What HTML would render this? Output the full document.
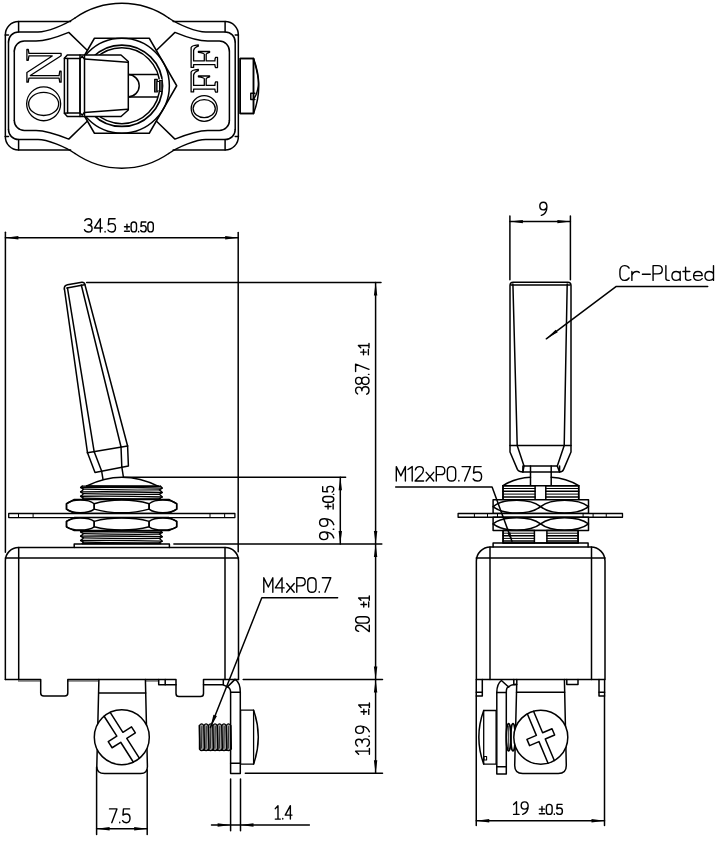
<!DOCTYPE html>
<html><head><meta charset="utf-8"><style>
html,body{margin:0;padding:0;background:#fff;}
svg{display:block;}
</style></head><body>
<svg width="719" height="842" viewBox="0 0 719 842">
<g fill="none" stroke="#000" stroke-width="1.5" stroke-linecap="round" stroke-linejoin="round" font-family="Liberation Sans">
<path d="M5.35,35 A13.2 13.2 0 0 1 18.55,21.5 L70.6,21.5"/>
<line x1="18.6" y1="21.5" x2="18.6" y2="32"/>
<line x1="5.35" y1="35" x2="8.5" y2="35"/>
<path d="M8.5,41.9 A9.9 9.9 0 0 1 18.4,32 L38,32 C47,32 65,24.9 75,18"/>
<path d="M14.3,51.1 A10 10 0 0 1 24.3,41.1 L36,41.1 C46,41.1 58,36.8 68.75,32.4 L87.2,50.2"/>
<path d="M5.35,136.5 A13.2 13.2 0 0 0 18.55,150 L70.6,150"/>
<line x1="18.6" y1="150" x2="18.6" y2="139.5"/>
<line x1="5.35" y1="136.5" x2="8.5" y2="136.5"/>
<path d="M8.5,129.6 A9.9 9.9 0 0 0 18.4,139.5 L38,139.5 C47,139.5 65,146.6 75,153.5"/>
<path d="M14.3,120.4 A10 10 0 0 0 24.3,130.4 L36,130.4 C46,130.4 58,134.7 68.75,139.1 L87.2,121.3"/>
<path d="M238.35,35 A13.2 13.2 0 0 0 225.15,21.5 L173.1,21.5"/>
<line x1="225.1" y1="21.5" x2="225.1" y2="32"/>
<line x1="238.35" y1="35" x2="235.2" y2="35"/>
<path d="M235.2,41.9 A9.9 9.9 0 0 0 225.3,32 L205.7,32 C196.7,32 178.7,24.9 168.7,18"/>
<path d="M229.4,51.1 A10 10 0 0 0 219.4,41.1 L207.7,41.1 C197.7,41.1 185.7,36.8 174.95,32.4 L156.5,50.2"/>
<path d="M238.35,136.5 A13.2 13.2 0 0 1 225.15,150 L173.1,150"/>
<line x1="225.1" y1="150" x2="225.1" y2="139.5"/>
<line x1="238.35" y1="136.5" x2="235.2" y2="136.5"/>
<path d="M235.2,129.6 A9.9 9.9 0 0 1 225.3,139.5 L205.7,139.5 C196.7,139.5 178.7,146.6 168.7,153.5"/>
<path d="M229.4,120.4 A10 10 0 0 1 219.4,130.4 L207.7,130.4 C197.7,130.4 185.7,134.7 174.95,139.1 L156.5,121.3"/>
<line x1="5.35" y1="35" x2="5.35" y2="136.5"/>
<line x1="238.35" y1="35" x2="238.35" y2="136.5"/>
<line x1="8.5" y1="41.9" x2="8.5" y2="129.6"/>
<line x1="235.2" y1="41.9" x2="235.2" y2="129.6"/>
<line x1="14.3" y1="51.1" x2="14.3" y2="120.4"/>
<line x1="229.4" y1="51.1" x2="229.4" y2="120.4"/>
<path d="M75,18 A82.15 82.15 0 0 1 168.7,18"/>
<path d="M75,153.5 A82.15 82.15 0 0 0 168.7,153.5"/>
<path d="M176.7,85.75 L149.27,133.25 L94.43,133.25 L67,85.75 L94.43,38.25 L149.27,38.25 Z"/>
<circle cx="121.85" cy="85.75" r="47.5"/>
<circle cx="121.85" cy="85.75" r="40.7" stroke-width="1.7"/>
<circle cx="121.85" cy="85.75" r="37.9"/>
<path d="M128,74.6 L157.5,74.6"/>
<path d="M128,96.9 L157.5,96.9"/>
<path d="M128,74.6 A11.2 11.15 0 0 1 128,96.9"/>
<rect x="154.6" y="79.4" width="7.6" height="12.6" fill="#fff" stroke="none"/>
<rect x="154.6" y="79.4" width="2.7" height="12.6" fill="#666" stroke-width="1.1"/>
<rect x="159.5" y="80.5" width="2.7" height="11" fill="#555" stroke-width="1.1"/>
<rect x="157.3" y="81.5" width="2.2" height="9.5" fill="#fff" stroke-width="1.0"/>
<path d="M67.3,55 L121,55 L128.3,61.5 L128.3,110 L121,116.5 L67.3,116.5 L64.4,113.2 L64.4,58.3 Z" fill="#fff"/>
<path d="M67.6,58.5 L80,58.5 L80,113 L67.6,113 Z"/>
<line x1="64.4" y1="58.3" x2="67.6" y2="58.5"/>
<line x1="64.4" y1="113.2" x2="67.6" y2="113"/>
<line x1="80" y1="55" x2="80" y2="116.5"/>
<line x1="84.5" y1="55" x2="84.5" y2="116.5"/>
<line x1="80" y1="58.5" x2="82.2" y2="56.6"/>
<line x1="82.2" y1="56.6" x2="84.5" y2="58.9"/>
<line x1="80" y1="113" x2="82.2" y2="115"/>
<line x1="82.2" y1="115" x2="84.5" y2="112.6"/>
<line x1="84.5" y1="58.9" x2="127.6" y2="62.3"/>
<line x1="84.5" y1="112.6" x2="127.6" y2="109.2"/>
<rect x="240.2" y="58.5" width="13.3" height="55" fill="#fff"/>
<path d="M253.5,58.5 L240.2,58.5 L240.2,113.5 L253.5,113.5 Z"/>
<path d="M253.5,58.5 Q264,86 253.5,113.5"/>
<path d="M253.5,59 Q259.5,78 258.3,86 Q257,95 253.5,99"/>
<path d="M254.9,93.2 L250.8,93.2 L250.8,99.5 L254.9,99.5"/>
<path d="M28.91 55.94 28.25 60.25H26.9V49.3H28.25L28.91 53.42H61.1V55.75L30.34 75.56H59.06L59.75 71.25H61.1V82.2H59.75L59.06 78.08H28.91L28.25 82.2H26.9V72.47L52.22 55.94Z" stroke-width="1.3"/>
<path d="M191.1,67.4 L191.1,47.6 Q191.3,45.6 198.3,44.9 L198.3,46.2 Q194.2,47.6 193.6,50.5 L193.6,60.9 L204.3,60.9 L204.3,54.2 Q204.0,53.0 198.4,52.3 L198.4,51.5 L209.6,51.5 L209.6,52.3 Q206.5,53.0 206.2,54.2 L206.2,60.9 L214.9,60.9 Q214.9,58.2 215.6,57.3 L217.5,57.3 L217.5,67.6 L215.6,67.6 Q214.9,66.8 214.9,64.6 L193.6,64.6 L193.6,67.4 Z" stroke-width="1.3"/>
<path d="M191.1,91.9 L191.1,72.1 Q191.3,70.1 198.3,69.4 L198.3,70.7 Q194.2,72.1 193.6,75.0 L193.6,85.4 L204.3,85.4 L204.3,78.7 Q204.0,77.5 198.4,76.8 L198.4,76.0 L209.6,76.0 L209.6,76.8 Q206.5,77.5 206.2,78.7 L206.2,85.4 L214.9,85.4 Q214.9,82.7 215.6,81.8 L217.5,81.8 L217.5,92.1 L215.6,92.1 Q214.9,91.3 214.9,89.1 L193.6,89.1 L193.6,91.9 Z" stroke-width="1.3"/>
<ellipse cx="43.65" cy="103.85" rx="17" ry="16.9" stroke-width="1.3"/>
<ellipse cx="43.65" cy="103.9" rx="15" ry="11.6" stroke-width="1.3"/>
<ellipse cx="204.2" cy="108.5" rx="13" ry="12.8" stroke-width="1.3"/>
<ellipse cx="204.2" cy="108.6" rx="11.1" ry="9" stroke-width="1.3"/>
<line x1="5.4" y1="232.2" x2="5.4" y2="552.2"/>
<line x1="238.2" y1="232.5" x2="238.2" y2="551.7"/>
<line x1="5.4" y1="237.8" x2="238.2" y2="237.8"/>
<path d="M5.4,237.8 L18.4,236.1 L18.4,239.5 Z" fill="#000" stroke="none"/>
<path d="M238.2,237.8 L225.2,239.5 L225.2,236.1 Z" fill="#000" stroke="none"/>
<path d="M64.4,288.8 L87.5,452.8"/>
<path d="M67.5,288.1 L94.2,451.8"/>
<path d="M85,285 L127.6,446"/>
<path d="M81.3,285 L121,446.8"/>
<path d="M64.4,289 Q63.8,285.5 67.5,284.7 L81.9,282.2 Q84.5,282.1 85,284.6"/>
<line x1="66.9" y1="288.1" x2="84.4" y2="284.7"/>
<path d="M87.5,452.8 L127.6,446"/>
<path d="M87.5,452.8 L95,472.6 L128.4,466 L127.6,446"/>
<path d="M94.2,451.8 L101.7,471.2"/>
<path d="M121,446.8 L121.8,466.8"/>
<path d="M101.7,471.5 L103,479.3"/>
<path d="M121.8,466.8 L123.4,477"/>
<path d="M86.7,486 Q122,468.3 158.5,486.3"/>
<line x1="86.5" y1="486.1" x2="158.5" y2="486.3"/>
<line x1="86.6" y1="282.4" x2="381" y2="282.4"/>
<line x1="123.4" y1="477.3" x2="345.6" y2="477.3"/>
<line x1="173.9" y1="543.9" x2="381.8" y2="543.9"/>
<line x1="243.2" y1="679.4" x2="382.5" y2="679.4"/>
<line x1="245.3" y1="773.3" x2="382.5" y2="773.3"/>
<path d="M82.28,486.1 L80.6,487.43 L83.4,489.2 L82.28,490.53 L80.6,491.86 L83.4,493.64 L82.28,494.97 L80.6,496.3 L83.4,498.07 L82.28,499.4" stroke-width="1.4"/>
<path d="M160.52,486.32 L162.2,488.1 L159.4,489.87 L160.52,490.76 L162.2,492.53 L159.4,494.3 L160.52,495.19 L162.2,496.96 L159.4,498.73 L160.52,499.4" stroke-width="1.4"/>
<line x1="82.28" y1="486.1" x2="160.52" y2="486.32" stroke-width="1.4"/>
<path d="M80.6,487.43 Q121.4,486.99 162.2,488.1" stroke-width="1.4"/>
<path d="M83.4,489.2 Q121.4,490.31 159.4,489.87" stroke-width="1.2"/>
<path d="M80.6,491.86 Q121.4,491.42 162.2,492.53" stroke-width="1.4"/>
<path d="M83.4,493.64 Q121.4,494.75 159.4,494.3" stroke-width="1.2"/>
<path d="M80.6,496.3 Q121.4,495.85 162.2,496.96" stroke-width="1.4"/>
<path d="M83.4,498.07 Q121.4,499.18 159.4,498.73" stroke-width="1.2"/>
<line x1="82.28" y1="499.4" x2="160.52" y2="499.4" stroke-width="1.4"/>
<path d="M82.28,530.5 L80.6,531.8 L83.4,533.53 L82.28,534.83 L80.6,536.13 L83.4,537.87 L82.28,539.17 L80.6,540.47 L83.4,542.2 L82.28,543.5" stroke-width="1.4"/>
<path d="M160.52,530.72 L162.2,532.45 L159.4,534.18 L160.52,535.05 L162.2,536.78 L159.4,538.52 L160.52,539.38 L162.2,541.12 L159.4,542.85 L160.52,543.5" stroke-width="1.4"/>
<line x1="82.28" y1="530.5" x2="160.52" y2="530.72" stroke-width="1.4"/>
<path d="M80.6,531.8 Q121.4,531.37 162.2,532.45" stroke-width="1.4"/>
<path d="M83.4,533.53 Q121.4,534.62 159.4,534.18" stroke-width="1.2"/>
<path d="M80.6,536.13 Q121.4,535.7 162.2,536.78" stroke-width="1.4"/>
<path d="M83.4,537.87 Q121.4,538.95 159.4,538.52" stroke-width="1.2"/>
<path d="M80.6,540.47 Q121.4,540.03 162.2,541.12" stroke-width="1.4"/>
<path d="M83.4,542.2 Q121.4,543.28 159.4,542.85" stroke-width="1.2"/>
<line x1="82.28" y1="543.5" x2="160.52" y2="543.5" stroke-width="1.4"/>
<path d="M74.3,499.5 L168.9,499.5 L176.7,503.75 L176.7,509.15 L168.9,513.4 L74.3,513.4 L66.5,509.15 L66.5,503.75 Z" fill="#fff"/>
<path d="M66.5,503.75 C72.59,498.9 88.11,498.9 94.2,503.75 L94.2,509.15 C88.11,514 72.59,514 66.5,509.15 Z"/>
<path d="M94.2,503.75 C110.67,498.9 132.63,498.9 149.1,503.75 L149.1,509.15 C132.63,514 110.67,514 94.2,509.15 Z"/>
<path d="M149.1,503.75 C155.17,498.9 170.63,498.9 176.7,503.75 L176.7,509.15 C170.63,514 155.17,514 149.1,509.15 Z"/>
<rect x="8.7" y="513.5" width="226.2" height="4.1" fill="#fff" stroke-width="1.3"/>
<line x1="18.5" y1="513.5" x2="18.5" y2="517.6" stroke-width="1"/>
<line x1="33.1" y1="513.5" x2="33.1" y2="517.6" stroke-width="1"/>
<line x1="210" y1="513.5" x2="210" y2="517.6" stroke-width="1"/>
<line x1="224.65" y1="513.5" x2="224.65" y2="517.6" stroke-width="1"/>
<path d="M74.3,517.6 L168.9,517.6 L176.7,521.4 L176.7,526.8 L168.9,530.6 L74.3,530.6 L66.5,526.8 L66.5,521.4 Z" fill="#fff"/>
<path d="M66.5,521.4 C72.59,517 88.11,517 94.2,521.4 L94.2,526.8 C88.11,531.2 72.59,531.2 66.5,526.8 Z"/>
<path d="M94.2,521.4 C110.67,517 132.63,517 149.1,521.4 L149.1,526.8 C132.63,531.2 110.67,531.2 94.2,526.8 Z"/>
<path d="M149.1,521.4 C155.17,517 170.63,517 176.7,521.4 L176.7,526.8 C170.63,531.2 155.17,531.2 149.1,526.8 Z"/>
<path d="M74.2,547.5 L74.2,543.9 L169.4,543.9 L169.4,547.5"/>
<path d="M5.35,679.4 L5.35,560.7 A13.2 13.2 0 0 1 18.55,547.5 L225.3,547.5 A13.2 13.2 0 0 1 238.5,560.7 L238.5,679.4"/>
<line x1="18.7" y1="547.5" x2="18.7" y2="679.4"/>
<line x1="225" y1="547.5" x2="225" y2="679.4"/>
<line x1="5.35" y1="558" x2="238.5" y2="558"/>
<path d="M5.35,679.4 L40.7,679.4 L40.7,693 Q40.7,696 43.7,696 L64.8,696 Q67.8,696 67.8,693 L67.8,679.4 L176,679.4 L176,693.5 Q176,696.6 179,696.6 L200.5,696.6 Q203.5,696.6 203.5,693.5 L203.5,679.4 L238.5,679.4"/>
<path d="M158.7,679.4 L158.7,684.8 L176,684.8"/>
<line x1="165.2" y1="679.4" x2="165.2" y2="684.8"/>
<path d="M203.5,684.8 L223.3,684.8 L223.3,679.4"/>
<line x1="223.3" y1="684.8" x2="227.4" y2="686.9"/>
<line x1="18.4" y1="681" x2="40.7" y2="681" stroke-width="0.8"/>
<line x1="67.8" y1="681" x2="98" y2="681" stroke-width="0.8"/>
<line x1="145.4" y1="681" x2="158.7" y2="681" stroke-width="0.8"/>
<path d="M98.9,679.4 L96.8,766.3 Q96.6,773.5 104.6,773.5 L140.6,773.5 Q147.6,773.5 147.4,766.3 L145.4,679.4"/>
<line x1="98.7" y1="692.9" x2="145.7" y2="692.9"/>
<circle cx="121.8" cy="737.2" r="27.5" fill="#fff"/>
<path d="M110.19,712.37 L122.9,732.33 L131.5,726.85 L135.37,732.92 L126.77,738.4 L139.48,758.36"/>
<path d="M104.12,716.24 L116.83,736.2 L108.23,741.68 L112.1,747.75 L120.7,742.27 L133.41,762.23"/>
<line x1="96.6" y1="767" x2="96.6" y2="834.5"/>
<line x1="147.2" y1="770" x2="147.2" y2="834.5"/>
<line x1="96.6" y1="828.8" x2="147.2" y2="828.8"/>
<path d="M96.6,828.8 L109.6,827.1 L109.6,830.5 Z" fill="#000" stroke="none"/>
<path d="M147.2,828.8 L134.2,830.5 L134.2,827.1 Z" fill="#000" stroke="none"/>
<path d="M235,679.4 Q240.3,682.5 240.3,692.3 L240.3,773.5 L230.6,773.5 L230.6,692.3 Q230.6,688 227.4,686.9 L235,679.4"/>
<line x1="230.6" y1="692.3" x2="240.3" y2="692.3"/>
<line x1="230.6" y1="763.3" x2="240.3" y2="763.3"/>
<rect x="240.6" y="710.2" width="13" height="53.9" fill="#fff" stroke-width="1.3"/>
<path d="M253.6,710.2 Q263,737 253.6,764.1"/>
<line x1="240.6" y1="710.2" x2="382" y2="710.2" stroke-width="0.01"/>
<g stroke-width="1.2">
<path d="M199.4,725.5 Q201.64,722.3 203.87,725.5 Q206.11,722.3 208.34,725.5 Q210.58,722.3 212.81,725.5 Q215.05,722.3 217.29,725.5 Q219.52,722.3 221.76,725.5 Q223.99,722.3 226.23,725.5 Q228.46,722.3 230.7,725.5 L230.7,749.1 Q228.46,752.3 226.23,749.1 Q223.99,752.3 221.76,749.1 Q219.52,752.3 217.29,749.1 Q215.05,752.3 212.81,749.1 Q210.58,752.3 208.34,749.1 Q206.11,752.3 203.87,749.1 Q201.64,752.3 199.4,749.1 Z" fill="#9a9a9a"/>
<line x1="199.4" y1="725.5" x2="200" y2="749.1" stroke-width="1.5"/>
<line x1="203.87" y1="725.5" x2="204.47" y2="749.1" stroke-width="1.5"/>
<line x1="208.34" y1="725.5" x2="208.94" y2="749.1" stroke-width="1.5"/>
<line x1="212.81" y1="725.5" x2="213.41" y2="749.1" stroke-width="1.5"/>
<line x1="217.29" y1="725.5" x2="217.89" y2="749.1" stroke-width="1.5"/>
<line x1="221.76" y1="725.5" x2="222.36" y2="749.1" stroke-width="1.5"/>
<line x1="226.23" y1="725.5" x2="226.83" y2="749.1" stroke-width="1.5"/>
<line x1="230.7" y1="725.5" x2="231.3" y2="749.1" stroke-width="1.5"/>
<line x1="201.86" y1="726.5" x2="201.46" y2="748.1" stroke-width="0.7"/>
<line x1="206.33" y1="726.5" x2="205.93" y2="748.1" stroke-width="0.7"/>
<line x1="210.8" y1="726.5" x2="210.4" y2="748.1" stroke-width="0.7"/>
<line x1="215.27" y1="726.5" x2="214.87" y2="748.1" stroke-width="0.7"/>
<line x1="219.75" y1="726.5" x2="219.34" y2="748.1" stroke-width="0.7"/>
<line x1="224.22" y1="726.5" x2="223.82" y2="748.1" stroke-width="0.7"/>
<line x1="228.69" y1="726.5" x2="228.29" y2="748.1" stroke-width="0.7"/>
</g>
<path d="M337.6,597.8 L261.8,597.8 L210.4,727.5"/>
<path d="M210.4,727.5 L213.42,714.71 L216.96,716.11 Z" fill="#000" stroke="none"/>
<line x1="230.6" y1="779" x2="230.6" y2="830.7"/>
<line x1="240.5" y1="779" x2="240.5" y2="830.7"/>
<line x1="211.5" y1="825" x2="309.4" y2="825"/>
<path d="M230.6,825 L217.6,826.7 L217.6,823.3 Z" fill="#000" stroke="none"/>
<path d="M240.5,825 L253.5,823.3 L253.5,826.7 Z" fill="#000" stroke="none"/>
<line x1="375.6" y1="282.4" x2="375.6" y2="773.3"/>
<path d="M375.6,282.4 L377.3,295.4 L373.9,295.4 Z" fill="#000" stroke="none"/>
<path d="M375.6,543.9 L373.9,530.9 L377.3,530.9 Z" fill="#000" stroke="none"/>
<path d="M375.6,543.9 L377.3,556.9 L373.9,556.9 Z" fill="#000" stroke="none"/>
<path d="M375.6,679.4 L373.9,666.4 L377.3,666.4 Z" fill="#000" stroke="none"/>
<path d="M375.6,679.4 L377.3,692.4 L373.9,692.4 Z" fill="#000" stroke="none"/>
<path d="M375.6,773.3 L373.9,760.3 L377.3,760.3 Z" fill="#000" stroke="none"/>
<line x1="340.3" y1="477.3" x2="340.3" y2="543.9"/>
<path d="M340.3,477.3 L342,490.3 L338.6,490.3 Z" fill="#000" stroke="none"/>
<path d="M340.3,543.9 L338.6,530.9 L342,530.9 Z" fill="#000" stroke="none"/>
<line x1="509.9" y1="216" x2="509.9" y2="279.8"/>
<line x1="570.4" y1="216" x2="570.4" y2="279.8"/>
<line x1="509.9" y1="221.6" x2="570.4" y2="221.6"/>
<path d="M509.9,221.6 L522.9,219.9 L522.9,223.3 Z" fill="#000" stroke="none"/>
<path d="M570.4,221.6 L557.4,223.3 L557.4,219.9 Z" fill="#000" stroke="none"/>
<path d="M510,452 L510,285.4 Q510,282.2 513.2,282.2 L567.8,282.2 Q571,282.2 571,285.4 L571,452 L563.5,469.6 Q562.5,471.9 559.6,471.9 L522.9,471.9 Q519,471.9 517.5,469.6 Z" fill="#fff"/>
<line x1="511" y1="285" x2="570" y2="285"/>
<path d="M512.9,284 L517.2,445.4"/>
<path d="M567.2,284 L564.2,445.4"/>
<line x1="510" y1="445.4" x2="571" y2="445.4"/>
<path d="M517.2,445.4 L524,466.1 L557.3,466.1 L564.2,445.4"/>
<path d="M524,466.1 L522.9,471.9"/>
<path d="M557.3,466.1 L559.6,471.9"/>
<path d="M707.7,286.4 L616.3,286.4 L546.3,338.8"/>
<path d="M546.3,338.8 L555.69,329.65 L557.73,332.37 Z" fill="#000" stroke="none"/>
<path d="M530.5,471.9 L530.5,485.7"/>
<path d="M551.2,471.9 L551.2,485.7"/>
<path d="M522.9,466.1 L522.9,471.9"/>
<path d="M530.5,466.1 L530.5,471.9"/>
<path d="M551.2,466.1 L551.2,471.9"/>
<path d="M559.6,466.1 L559.6,471.9"/>
<path d="M503,485.7 Q515,478 530.5,477.3"/>
<path d="M551.2,477.3 Q566,478 578.7,485.7"/>
<rect x="503" y="485.7" width="75.7" height="14.5" fill="#fff"/>
<line x1="503" y1="485.7" x2="535.1" y2="485.7" stroke-width="1.5"/>
<line x1="545.8" y1="485.7" x2="578.7" y2="485.7" stroke-width="1.5"/>
<line x1="503" y1="488.5" x2="535.1" y2="488.5" stroke-width="1.0"/>
<line x1="545.8" y1="488.5" x2="578.7" y2="488.5" stroke-width="1.0"/>
<line x1="503" y1="491.3" x2="535.1" y2="491.3" stroke-width="1.5"/>
<line x1="545.8" y1="491.3" x2="578.7" y2="491.3" stroke-width="1.5"/>
<line x1="503" y1="494.1" x2="535.1" y2="494.1" stroke-width="1.0"/>
<line x1="545.8" y1="494.1" x2="578.7" y2="494.1" stroke-width="1.0"/>
<line x1="503" y1="496.9" x2="535.1" y2="496.9" stroke-width="1.5"/>
<line x1="545.8" y1="496.9" x2="578.7" y2="496.9" stroke-width="1.5"/>
<line x1="503" y1="500.2" x2="535.1" y2="500.2" stroke-width="1.0"/>
<line x1="545.8" y1="500.2" x2="578.7" y2="500.2" stroke-width="1.0"/>
<line x1="503" y1="485.7" x2="503" y2="500.2"/>
<line x1="578.7" y1="485.7" x2="578.7" y2="500.2"/>
<line x1="535.1" y1="485.7" x2="535.1" y2="500.2"/>
<line x1="545.8" y1="485.7" x2="545.8" y2="500.2"/>
<path d="M493.1,499.75 L588.5,499.75 L588.5,513.5 L493.1,513.5 Z" fill="#fff"/>
<path d="M493.1,506.62 C503.55,498.15 530.15,498.15 540.6,506.62 C530.15,515.1 503.55,515.1 493.1,506.62"/>
<path d="M540.6,506.62 C551.14,498.15 577.96,498.15 588.5,506.62 C577.96,515.1 551.14,515.1 540.6,506.62"/>
<rect x="458.1" y="513.5" width="164.4" height="3.75" fill="#fff" stroke-width="1.3"/>
<line x1="474.4" y1="513.5" x2="474.4" y2="517.25" stroke-width="1"/>
<line x1="487.5" y1="513.5" x2="487.5" y2="517.25" stroke-width="1"/>
<line x1="497.5" y1="513.5" x2="497.5" y2="517.25" stroke-width="1"/>
<line x1="583.1" y1="513.5" x2="583.1" y2="517.25" stroke-width="1"/>
<line x1="593.1" y1="513.5" x2="593.1" y2="517.25" stroke-width="1"/>
<line x1="606.25" y1="513.5" x2="606.25" y2="517.25" stroke-width="1"/>
<path d="M493.1,517.25 L588.5,517.25 L588.5,530.6 L493.1,530.6 Z" fill="#fff"/>
<path d="M493.1,523.92 C503.55,515.65 530.15,515.65 540.6,523.92 C530.15,532.2 503.55,532.2 493.1,523.92"/>
<path d="M540.6,523.92 C551.14,515.65 577.96,515.65 588.5,523.92 C577.96,532.2 551.14,532.2 540.6,523.92"/>
<rect x="503.1" y="530.6" width="75" height="12.5" fill="#fff"/>
<line x1="503.1" y1="530.6" x2="534.4" y2="530.6" stroke-width="1.5"/>
<line x1="546.9" y1="530.6" x2="578.1" y2="530.6" stroke-width="1.5"/>
<line x1="503.1" y1="533.2" x2="534.4" y2="533.2" stroke-width="1.0"/>
<line x1="546.9" y1="533.2" x2="578.1" y2="533.2" stroke-width="1.0"/>
<line x1="503.1" y1="535.8" x2="534.4" y2="535.8" stroke-width="1.5"/>
<line x1="546.9" y1="535.8" x2="578.1" y2="535.8" stroke-width="1.5"/>
<line x1="503.1" y1="538.4" x2="534.4" y2="538.4" stroke-width="1.0"/>
<line x1="546.9" y1="538.4" x2="578.1" y2="538.4" stroke-width="1.0"/>
<line x1="503.1" y1="541" x2="534.4" y2="541" stroke-width="1.5"/>
<line x1="546.9" y1="541" x2="578.1" y2="541" stroke-width="1.5"/>
<line x1="503.1" y1="543.1" x2="534.4" y2="543.1" stroke-width="1.0"/>
<line x1="546.9" y1="543.1" x2="578.1" y2="543.1" stroke-width="1.0"/>
<line x1="503.1" y1="530.6" x2="503.1" y2="543.1"/>
<line x1="578.1" y1="530.6" x2="578.1" y2="543.1"/>
<line x1="534.4" y1="530.6" x2="534.4" y2="543.1"/>
<line x1="546.9" y1="530.6" x2="546.9" y2="543.1"/>
<path d="M493.1,546.9 L493.1,543.1 L588.1,543.1 L588.1,546.9"/>
<path d="M395.7,487 L492.1,487 L512,541.2"/>
<path d="M512,541.2 L507.4,533.3 L510.4,532.2 Z" fill="#000" stroke="none"/>
<path d="M476.35,679.4 L476.35,561 A14 14 0 0 1 490.35,547 L591,547 A14 14 0 0 1 605,561 L605,679.4 Z"/>
<line x1="490" y1="547" x2="490" y2="679.4"/>
<line x1="591.5" y1="547" x2="591.5" y2="679.4"/>
<line x1="476.25" y1="558" x2="605" y2="558"/>
<path d="M476.25,679.4 L476.25,696 L482.3,696 L482.3,679.4"/>
<line x1="476.25" y1="692.3" x2="482.3" y2="692.3"/>
<path d="M599,679.4 L599,696 L604.6,696 L604.6,679.4"/>
<line x1="599" y1="692.3" x2="604.6" y2="692.3"/>
<line x1="476.25" y1="696" x2="476.25" y2="825.5"/>
<line x1="604.5" y1="696" x2="604.5" y2="825.5"/>
<line x1="476.25" y1="820.75" x2="604.5" y2="820.75"/>
<path d="M476.25,820.75 L489.25,819.05 L489.25,822.45 Z" fill="#000" stroke="none"/>
<path d="M604.5,820.75 L591.5,822.45 L591.5,819.05 Z" fill="#000" stroke="none"/>
<path d="M496.8,692.5 Q496.8,684 501.4,680.5 L508.6,687 Q510.5,684.4 515.75,684.4"/>
<path d="M496.8,692.5 L496.8,773.9 L506.3,773.9 L506.3,692.5"/>
<line x1="496.8" y1="692.5" x2="506.3" y2="692.5"/>
<line x1="496.8" y1="766.7" x2="506.3" y2="766.7"/>
<path d="M506.3,692.5 Q506.3,687 508.6,687"/>
<path d="M513.8,679.4 L513.8,684.4 L516.8,684.4 L516.8,679.4"/>
<rect x="483.7" y="710.5" width="12.4" height="53.6" fill="#fff" stroke-width="1.3"/>
<path d="M483.7,710.5 Q474,737 483.7,764.1"/>
<ellipse cx="508.6" cy="737.3" rx="2.3" ry="13.6" stroke-width="1.7"/>
<ellipse cx="513" cy="737.3" rx="2.3" ry="13.6" stroke-width="1.7"/>
<line x1="508.6" y1="726" x2="508.6" y2="749" stroke-width="0.8"/>
<path d="M484,756.5 L486.6,756.5 L486.6,760 L484,760 Z" stroke-width="1.1"/>
<path d="M516.7,684.4 L514.7,765.5 Q514.7,773.5 522.7,773.5 L558.3,773.5 Q566.3,773.5 566.3,765.5 L564.4,679.4"/>
<line x1="516.5" y1="692.3" x2="564.6" y2="692.3"/>
<path d="M566.8,679.4 L566.8,684.5 L578,684.5 L578,679.4"/>
<circle cx="540.8" cy="737.2" r="27" fill="#fff"/>
<path d="M533.55,711.19 L542.62,732.75 L552.02,728.8 L554.65,735.06 L545.25,739.02 L554.31,760.57"/>
<path d="M527.29,713.83 L536.35,735.38 L526.95,739.34 L529.58,745.6 L538.98,741.65 L548.05,763.21"/>
<path d="M 84.77,220.69 C 85.58,219.23 86.8,218.7 88.29,218.7 C 90.46,218.7 91.67,220.03 91.67,221.89 C 91.67,223.75 90.32,224.95 88.02,224.95 C 90.59,224.95 92.08,226.41 92.08,228.41 C 92.08,230.67 90.46,232 88.29,232 C 86.53,232 85.18,231.34 84.5,229.74 M 100.34,232 L 100.34,218.7 L 94.38,228.01 L 102.23,228.01 M 105.08,231.47 L 105.08,232 M 115.09,218.7 L 108.87,218.7 L 108.33,224.69 C 109.27,224.02 110.63,223.62 111.98,223.62 C 114.28,223.62 115.5,225.35 115.5,227.74 C 115.5,230.4 114.01,232 111.71,232 C 109.81,232 108.6,231.34 107.92,230" stroke-width="1.4"/>
<path d="M 126.97,224.18 L 126.97,229.33 M 124.5,226.75 L 129.43,226.75 M 124.5,231.31 L 129.43,231.31 M 131.11,224.97 C 131.11,222.79 132.09,222 133.82,222 C 135.55,222 136.53,222.79 136.53,224.97 L 136.53,228.93 C 136.53,231.11 135.55,231.9 133.82,231.9 C 132.09,231.9 131.11,231.11 131.11,228.93 Z M 138.6,231.5 L 138.6,231.9 M 145.9,222 L 141.37,222 L 140.97,226.46 C 141.66,225.96 142.65,225.66 143.63,225.66 C 145.31,225.66 146.2,226.95 146.2,228.73 C 146.2,230.71 145.11,231.9 143.44,231.9 C 142.06,231.9 141.17,231.41 140.68,230.41 M 147.88,224.97 C 147.88,222.79 148.86,222 150.59,222 C 152.31,222 153.3,222.79 153.3,224.97 L 153.3,228.93 C 153.3,231.11 152.31,231.9 150.59,231.9 C 148.86,231.9 147.88,231.11 147.88,228.93 Z" stroke-width="1.4"/>
<path d="M 109.5,808.9 L 116.95,808.9 L 111.76,822.7 M 119.75,822.15 L 119.75,822.7 M 129.6,808.9 L 123.48,808.9 L 122.94,815.11 C 123.88,814.42 125.21,814.01 126.54,814.01 C 128.8,814.01 130,815.8 130,818.28 C 130,821.04 128.54,822.7 126.27,822.7 C 124.41,822.7 123.21,822.01 122.55,820.63" stroke-width="1.4"/>
<path d="M 275.3,808.65 L 277.99,805.7 L 277.99,819.1 M 275.3,819.1 L 280.32,819.1 M 282.77,818.56 L 282.77,819.1 M 290.37,819.1 L 290.37,805.7 L 285.23,815.08 L 292,815.08" stroke-width="1.4"/>
<path d="M 263.8,592.2 L 263.8,577.8 L 268.32,587.02 L 272.83,577.8 L 272.83,592.2 M 282.02,592.2 L 282.02,577.8 L 275.39,587.88 L 284.13,587.88 M 286.69,583.56 L 294.21,592.2 M 294.21,583.56 L 286.69,592.2 M 296.77,592.2 L 296.77,577.8 L 301.29,577.8 C 304,577.8 305.2,579.53 305.2,581.83 C 305.2,584.14 304,585.86 301.29,585.86 L 296.77,585.86 M 307.76,582.12 C 307.76,578.95 309.27,577.8 311.9,577.8 C 314.54,577.8 316.04,578.95 316.04,582.12 L 316.04,587.88 C 316.04,591.05 314.54,592.2 311.9,592.2 C 309.27,592.2 307.76,591.05 307.76,587.88 Z M 319.21,591.62 L 319.21,592.2 M 322.37,577.8 L 330.8,577.8 L 324.93,592.2" stroke-width="1.4"/>
<path d="M 396.3,481 L 396.3,466.6 L 400.85,475.82 L 405.39,466.6 L 405.39,481 M 407.97,469.48 L 412.21,466.6 L 412.21,481 M 415.39,469.77 C 415.84,467.61 417.36,466.6 419.33,466.6 C 421.91,466.6 423.42,468.04 423.42,470.34 C 423.42,472.36 422.36,473.8 420.39,475.53 L 415.09,481 L 423.57,481 M 426.15,472.36 L 433.72,481 M 433.72,472.36 L 426.15,481 M 436.3,481 L 436.3,466.6 L 440.84,466.6 C 443.57,466.6 444.78,468.33 444.78,470.63 C 444.78,472.94 443.57,474.66 440.84,474.66 L 436.3,474.66 M 447.36,470.92 C 447.36,467.75 448.87,466.6 451.53,466.6 C 454.18,466.6 455.69,467.75 455.69,470.92 L 455.69,476.68 C 455.69,479.85 454.18,481 451.53,481 C 448.87,481 447.36,479.85 447.36,476.68 Z M 458.87,480.42 L 458.87,481 M 462.06,466.6 L 470.54,466.6 L 464.63,481 M 481.15,466.6 L 474.18,466.6 L 473.57,473.08 C 474.63,472.36 476.15,471.93 477.66,471.93 C 480.24,471.93 481.6,473.8 481.6,476.39 C 481.6,479.27 479.93,481 477.36,481 C 475.24,481 473.87,480.28 473.12,478.84" stroke-width="1.4"/>
<path d="M 546.9,207.22 C 546.25,209.2 544.96,209.86 543.29,209.86 C 541.09,209.86 539.8,208.14 539.8,206.03 C 539.8,203.52 541.09,202.2 543.35,202.2 C 545.61,202.2 546.9,203.78 546.9,206.69 C 546.9,210.78 545.22,214.08 541.35,215.4" stroke-width="1.4"/>
<path d="M 629.1,268.12 C 628.11,266.34 626.47,265.6 624.66,265.6 C 621.54,265.6 619.9,267.82 619.9,271.52 L 619.9,274.48 C 619.9,278.18 621.54,280.4 624.66,280.4 C 626.47,280.4 628.11,279.66 629.1,277.88 M 631.89,271.52 L 631.89,280.4 M 631.89,275.37 C 632.71,272.7 634.35,271.52 636.81,271.52 C 637.96,271.52 638.78,271.96 639.28,272.56 M 642.4,274.18 L 650.28,274.18 M 653.07,280.4 L 653.07,265.6 L 658,265.6 C 660.95,265.6 662.27,267.38 662.27,269.74 C 662.27,272.11 660.95,273.89 658,273.89 L 653.07,273.89 M 665.88,265.6 L 665.88,278.33 C 665.88,279.81 666.7,280.4 668.01,280.4 L 669.16,280.4 M 680.17,271.52 L 680.17,280.4 M 680.17,273.59 C 679.18,272.11 677.87,271.52 676.22,271.52 C 673.6,271.52 671.95,273.44 671.95,275.96 C 671.95,278.62 673.6,280.4 676.22,280.4 C 677.87,280.4 679.18,279.81 680.17,278.33 M 685.58,267.08 L 685.58,278.62 C 685.58,279.96 686.57,280.4 688.05,280.4 C 689.2,280.4 690.02,280.1 690.84,279.66 M 682.96,271.52 L 689.85,271.52 M 693.63,275.66 L 702.17,275.66 C 702.17,273.15 700.53,271.52 697.9,271.52 C 695.27,271.52 693.63,273.44 693.63,275.96 C 693.63,278.62 695.27,280.4 698.06,280.4 C 699.87,280.4 701.18,279.81 702.17,278.62 M 713.5,265.6 L 713.5,280.4 M 713.5,273.59 C 712.51,272.11 711.04,271.52 709.23,271.52 C 706.6,271.52 704.96,273.44 704.96,275.96 C 704.96,278.62 706.6,280.4 709.23,280.4 C 711.04,280.4 712.51,279.81 713.5,278.33" stroke-width="1.4"/>
<path d="M 513.6,804.61 L 516.51,801.85 L 516.51,814.4 M 513.6,814.4 L 519.04,814.4 M 528.15,806.62 C 527.52,808.5 526.25,809.13 524.61,809.13 C 522.46,809.13 521.19,807.5 521.19,805.49 C 521.19,803.11 522.46,801.85 524.67,801.85 C 526.88,801.85 528.15,803.36 528.15,806.12 C 528.15,810.01 526.51,813.14 522.71,814.4" stroke-width="1.4"/>
<path d="M 541.97,806.56 L 541.97,811.79 M 539.35,809.17 L 544.59,809.17 M 539.35,813.8 L 544.59,813.8 M 546.37,807.37 C 546.37,805.15 547.42,804.35 549.25,804.35 C 551.08,804.35 552.13,805.15 552.13,807.37 L 552.13,811.38 C 552.13,813.6 551.08,814.4 549.25,814.4 C 547.42,814.4 546.37,813.6 546.37,811.38 Z M 554.33,814 L 554.33,814.4 M 562.09,804.35 L 557.27,804.35 L 556.85,808.87 C 557.58,808.37 558.63,808.07 559.68,808.07 C 561.46,808.07 562.4,809.38 562.4,811.18 C 562.4,813.19 561.25,814.4 559.47,814.4 C 558,814.4 557.06,813.9 556.53,812.89" stroke-width="1.4"/>
<path d="M 357.61,393.93 C 356.14,393.13 355.6,391.94 355.6,390.47 C 355.6,388.34 356.94,387.14 358.82,387.14 C 360.69,387.14 361.9,388.47 361.9,390.74 C 361.9,388.21 363.37,386.74 365.38,386.74 C 367.66,386.74 369,388.34 369,390.47 C 369,392.2 368.33,393.53 366.72,394.2 M 361.76,380.81 C 361.76,383.15 360.56,384.21 358.68,384.21 C 356.67,384.21 355.6,382.88 355.6,380.81 C 355.6,378.75 356.67,377.42 358.68,377.42 C 360.56,377.42 361.76,378.48 361.76,380.81 C 361.76,383.41 363.24,384.48 365.38,384.48 C 367.66,384.48 369,383.15 369,380.81 C 369,378.48 367.66,377.15 365.38,377.15 C 363.24,377.15 361.76,378.22 361.76,380.81 Z M 368.46,374.36 L 369,374.36 M 355.6,371.56 L 355.6,364.1 L 369,369.29" stroke-width="1.4"/>
<path d="M 360.73,352.13 L 366.24,352.13 M 363.49,354.7 L 363.49,349.56 M 368.36,354.7 L 368.36,349.56 M 360.73,347.82 L 358.4,345.45 L 369,345.45 M 369,347.82 L 369,343.4" stroke-width="1.4"/>
<path d="M 358.64,754.2 L 355.6,751.17 L 369.4,751.17 M 369.4,754.2 L 369.4,748.53 M 357.67,746.02 C 356.15,745.23 355.6,744.04 355.6,742.59 C 355.6,740.48 356.98,739.29 358.91,739.29 C 360.84,739.29 362.09,740.61 362.09,742.85 C 362.09,740.35 363.6,738.9 365.67,738.9 C 368.02,738.9 369.4,740.48 369.4,742.59 C 369.4,744.31 368.71,745.62 367.05,746.28 M 368.85,736.13 L 369.4,736.13 M 360.84,726.1 C 362.91,726.76 363.6,728.08 363.6,729.79 C 363.6,732.04 361.81,733.36 359.6,733.36 C 356.98,733.36 355.6,732.04 355.6,729.73 C 355.6,727.42 357.26,726.1 360.29,726.1 C 364.57,726.1 368.02,727.82 369.4,731.77" stroke-width="1.4"/>
<path d="M 361.05,711.79 L 366.62,711.79 M 363.84,714.4 L 363.84,709.17 M 368.76,714.4 L 368.76,709.17 M 361.05,707.4 L 358.7,704.99 L 369.4,704.99 M 369.4,707.4 L 369.4,702.9" stroke-width="1.4"/>
<path d="M 325,532.07 C 327.13,532.76 327.84,534.13 327.84,535.91 C 327.84,538.23 325.99,539.6 323.72,539.6 C 321.02,539.6 319.6,538.23 319.6,535.84 C 319.6,533.44 321.3,532.07 324.43,532.07 C 328.83,532.07 332.38,533.85 333.8,537.96 M 333.23,529.2 L 333.8,529.2 M 325,518.8 C 327.13,519.48 327.84,520.85 327.84,522.63 C 327.84,524.96 325.99,526.33 323.72,526.33 C 321.02,526.33 319.6,524.96 319.6,522.56 C 319.6,520.17 321.3,518.8 324.43,518.8 C 328.83,518.8 332.38,520.58 333.8,524.68" stroke-width="1.4"/>
<path d="M 325.14,506.52 L 330.91,506.52 M 328.03,509.1 L 328.03,503.94 M 333.13,509.1 L 333.13,503.94 M 326.03,502.19 C 323.59,502.19 322.7,501.15 322.7,499.35 C 322.7,497.54 323.59,496.51 326.03,496.51 L 330.47,496.51 C 332.91,496.51 333.8,497.54 333.8,499.35 C 333.8,501.15 332.91,502.19 330.47,502.19 Z M 333.36,494.35 L 333.8,494.35 M 322.7,486.71 L 322.7,491.46 L 327.69,491.87 C 327.14,491.15 326.81,490.11 326.81,489.08 C 326.81,487.33 328.25,486.4 330.25,486.4 C 332.47,486.4 333.8,487.54 333.8,489.29 C 333.8,490.73 333.24,491.66 332.13,492.18" stroke-width="1.4"/>
<path d="M 358.61,631.37 C 356.56,631.02 355.6,629.87 355.6,628.36 C 355.6,626.4 356.97,625.24 359.16,625.24 C 361.08,625.24 362.45,626.05 364.09,627.55 L 369.3,631.6 L 369.3,625.12 M 359.71,623.16 C 356.7,623.16 355.6,622 355.6,619.98 C 355.6,617.96 356.7,616.8 359.71,616.8 L 365.19,616.8 C 368.2,616.8 369.3,617.96 369.3,619.98 C 369.3,622 368.2,623.16 365.19,623.16 Z" stroke-width="1.4"/>
<path d="M 360.95,604.5 L 366.52,604.5 M 363.74,607 L 363.74,602 M 368.66,607 L 368.66,602 M 360.95,600.3 L 358.6,598 L 369.3,598 M 369.3,600.3 L 369.3,596" stroke-width="1.4"/>
</g>
</svg>
</body></html>
